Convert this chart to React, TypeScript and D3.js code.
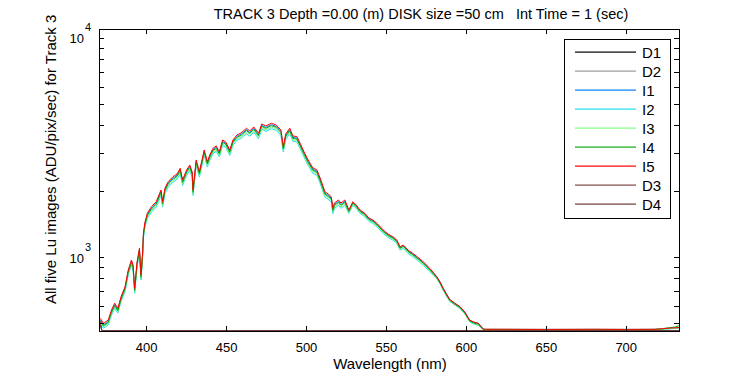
import React from 'react';
import { line, scaleLinear, scaleLog } from 'd3';

// wavelength grid (nm) for the five Lu images
const wavelengths = [
  371, 373, 376, 378, 380, 382, 384, 386.5, 388.5, 390.5, 391.5, 392.5, 394, 395.5, 396.5, 397.5, 398, 399,
  400.5, 403, 406, 409, 410, 411.5, 413.5, 416.5, 419, 421, 422.5, 425, 427, 428.5, 429, 431, 433, 436, 438,
  439.5, 441.5, 443.5, 445.5, 447.5, 449.5, 452, 454, 456.5, 459, 462.5, 464.5, 467, 470, 472, 474.5, 478, 481,
  484, 485.5, 487, 489.5, 491.5, 494, 496, 498.5, 501, 504, 506.5, 508.5, 511.5, 513.5, 515.5, 516.5, 517.5,
  520, 521.5, 524, 526.5, 529, 531, 533.5, 536.5, 539, 541.5, 544.5, 548, 551, 554, 556.5, 558.5, 560.5, 563.5,
  566.5, 569.5, 573, 577, 581.5, 583.5, 585.5, 587.5, 589.5, 592.5, 596, 599, 602, 604.5, 607.5, 609, 610.5,
  612, 620, 650, 680, 700, 718, 722, 725, 728, 731, 733,
];

const i1 = [
  521, 494, 512, 568, 611, 579, 654, 727, 866, 961, 912, 714, 942, 1087, 821, 1049, 1277, 1437,
  1575, 1682, 1773, 2005, 1773, 2048, 2188, 2306, 2372, 2519, 2227, 2474, 2607, 2422, 2005, 2748, 2430, 3052, 2700,
  2896, 3107, 3184, 2998, 3389, 3319, 3052, 3389, 3573, 3648, 3834, 3726, 3886, 3638, 4010, 3926, 4039, 3969,
  3766, 3160, 3610, 3834, 3535, 3510, 3274, 2988, 2748, 2527, 2474, 2274, 1969, 1923, 1869, 1655, 1749,
  1806, 1749, 1806, 1634, 1782, 1723, 1634, 1578, 1502, 1471, 1410, 1325, 1269, 1235, 1192, 1111, 1132, 1073,
  1037, 997, 949, 888, 819, 775, 726, 684, 646, 622, 598, 566, 520, 509, 502, 488, 473,
  471, 471, 471, 471, 471, 471, 473, 475, 477, 478, 480,
];

const i2 = [
  503, 477, 494, 548, 589, 559, 631, 701, 835, 927, 880, 689, 908, 1049, 792, 1012, 1231, 1386,
  1511, 1614, 1701, 1924, 1701, 1965, 2099, 2212, 2276, 2416, 2137, 2374, 2501, 2324, 1924, 2637, 2331, 2928, 2590,
  2778, 2981, 3054, 2877, 3252, 3185, 2928, 3252, 3428, 3500, 3678, 3575, 3728, 3490, 3847, 3767, 3875, 3807,
  3613, 3032, 3463, 3678, 3392, 3367, 3141, 2867, 2637, 2424, 2374, 2182, 1889, 1845, 1793, 1588, 1678,
  1732, 1678, 1732, 1592, 1737, 1679, 1592, 1538, 1464, 1434, 1374, 1291, 1237, 1203, 1162, 1083, 1103, 1046,
  1010, 972, 925, 866, 803, 760, 711, 669, 633, 610, 586, 555, 510, 499, 492, 480, 470,
  470, 470, 470, 470, 470, 470, 471, 472, 474, 475, 476,
];

const i3 = [
  510, 484, 502, 557, 598, 567, 641, 712, 848, 942, 894, 700, 923, 1065, 805, 1028, 1251, 1408,
  1535, 1640, 1728, 1955, 1728, 1996, 2132, 2247, 2312, 2455, 2171, 2412, 2541, 2361, 1955, 2678, 2368, 2974, 2631,
  2822, 3028, 3103, 2922, 3303, 3235, 2974, 3303, 3482, 3556, 3736, 3632, 3787, 3545, 3908, 3827, 3937, 3868,
  3670, 3080, 3518, 3736, 3445, 3420, 3191, 2913, 2678, 2462, 2412, 2217, 1919, 1874, 1821, 1613, 1705,
  1760, 1705, 1760, 1609, 1755, 1697, 1609, 1554, 1479, 1449, 1388, 1305, 1250, 1216, 1174, 1094, 1114, 1057,
  1021, 982, 935, 875, 807, 763, 714, 673, 636, 613, 589, 558, 512, 501, 494, 482, 471,
  471, 471, 470, 471, 470, 471, 472, 474, 476, 477, 479,
];

const i4 = [
  516, 489, 507, 563, 605, 573, 647, 720, 857, 952, 903, 707, 932, 1076, 813, 1038, 1264, 1423,
  1559, 1665, 1755, 1985, 1755, 2027, 2165, 2282, 2348, 2493, 2204, 2449, 2581, 2398, 1985, 2720, 2405, 3021, 2672,
  2867, 3075, 3151, 2968, 3355, 3286, 3021, 3355, 3536, 3611, 3795, 3688, 3846, 3601, 3969, 3886, 3998, 3928,
  3727, 3128, 3573, 3795, 3499, 3474, 3241, 2958, 2720, 2501, 2449, 2251, 1949, 1903, 1850, 1638, 1732,
  1787, 1732, 1787, 1625, 1773, 1714, 1625, 1570, 1494, 1464, 1403, 1318, 1263, 1228, 1186, 1105, 1126, 1068,
  1031, 992, 945, 884, 811, 767, 718, 676, 640, 616, 592, 560, 515, 504, 497, 484, 471,
  471, 471, 471, 471, 471, 471, 473, 478, 480, 484, 490,
];

const i5 = [
  529, 502, 520, 577, 620, 588, 664, 738, 879, 976, 926, 725, 956, 1104, 834, 1065, 1296, 1459,
  1599, 1708, 1800, 2036, 1800, 2079, 2221, 2341, 2408, 2557, 2261, 2512, 2647, 2459, 2036, 2790, 2467, 3098, 2741,
  2940, 3154, 3232, 3044, 3441, 3370, 3098, 3441, 3627, 3704, 3892, 3783, 3945, 3693, 4071, 3986, 4101, 4029,
  3823, 3208, 3665, 3892, 3589, 3563, 3324, 3034, 2790, 2565, 2512, 2309, 1999, 1952, 1897, 1680, 1776,
  1833, 1776, 1833, 1650, 1800, 1740, 1650, 1594, 1517, 1486, 1424, 1338, 1282, 1247, 1204, 1122, 1143, 1084,
  1047, 1007, 959, 897, 819, 775, 725, 683, 646, 622, 598, 566, 520, 509, 502, 488, 473,
  472, 472, 471, 472, 471, 472, 474, 476, 478, 479, 481,
];

// dark frames
const darkWavelengths = [370.5, 372, 450, 550, 650, 733];
const d1 = [515, 465, 465, 465, 465, 465];
const d2 = [516, 465, 465, 465, 465, 465];
const d3 = [520, 465, 465, 465, 465, 465];
const d4 = [518, 465, 465, 465, 465, 465];

const seriesNames = ['D1', 'D2', 'I1', 'I2', 'I3', 'I4', 'I5', 'D3', 'D4'];
const seriesColors = ['#000000', '#999999', '#0080ff', '#1fdfef', '#80ff80', '#10a810', '#ff0000', '#804848', '#703838'];
const seriesValues = [d1, d2, i1, i2, i3, i4, i5, d3, d4];

const xTicks = [400, 450, 500, 550, 600, 650, 700];
const yMajor = [1000, 10000];
const yMinor = [500, 600, 700, 800, 900, 2000, 3000, 4000, 5000, 6000, 7000, 8000, 9000];

const title = 'TRACK 3 Depth =0.00 (m) DISK size =50 cm   Int Time = 1 (sec)';

const W = 750;
const H = 375;
const left = 99, right = 679, top = 29, bottom = 331;
const font = 'Arial, "Liberation Sans", Helvetica, sans-serif';

const App = () => {
  const x = scaleLinear().domain([370.2, 733]).range([left, right]);
  const y = scaleLog().domain([463.3, 11030]).range([bottom, top]);
  const tl = 5;

  const lineGen = line<[number, number]>()
    .x((d) => x(d[0]))
    .y((d) => y(d[1]));

  const paths = seriesNames.map((name, i) => {
    const wl = name.startsWith('D') ? darkWavelengths : wavelengths;
    const pts = wl.map((w, j) => [w, seriesValues[i][j]] as [number, number]);
    return { name, color: seriesColors[i], d: lineGen(pts) || '' };
  });

  return (
    <svg width={W} height={H} style={{ position: 'absolute', left: 0, top: 0, background: '#fff' }} fontFamily={font}>
      <defs>
        <clipPath id="plotClip">
          <rect x={left} y={top} width={right - left} height={bottom - top} />
        </clipPath>
      </defs>

      <text x={421} y={19} fontSize={14.5} textAnchor="middle" style={{ whiteSpace: 'pre' }}>
        {title}
      </text>

      <g clipPath="url(#plotClip)">
        {paths.map((p) => (
          <path key={p.name} d={p.d} fill="none" stroke={p.color} strokeWidth={1} />
        ))}
      </g>

      {/* axes box */}
      <rect x={left} y={top} width={right - left} height={bottom - top} fill="none" stroke="#000" strokeWidth={1} shapeRendering="crispEdges" />

      {xTicks.map((t) => (
        <g key={t} shapeRendering="crispEdges">
          <line x1={x(t)} x2={x(t)} y1={bottom} y2={bottom - tl} stroke="#000" />
          <line x1={x(t)} x2={x(t)} y1={top} y2={top + tl} stroke="#000" />
          <text x={x(t)} y={352} fontSize={13} textAnchor="middle">
            {t}
          </text>
        </g>
      ))}

      {[...yMajor, ...yMinor].map((t) => (
        <g key={t} shapeRendering="crispEdges">
          <line x1={left} x2={left + tl} y1={y(t)} y2={y(t)} stroke="#000" />
          <line x1={right} x2={right - tl} y1={y(t)} y2={y(t)} stroke="#000" />
        </g>
      ))}
      {yMajor.map((t) => (
        <g key={'l' + t}>
          <text x={84} y={y(t) + 5} fontSize={13} textAnchor="end">
            10
          </text>
          <text x={85} y={y(t) - 7} fontSize={11}>
            {Math.round(Math.log10(t))}
          </text>
        </g>
      ))}

      <text x={390} y={369} fontSize={15} textAnchor="middle">
        Wavelength (nm)
      </text>
      <text transform="translate(56,304) rotate(-90)" fontSize={15} textAnchor="start">
        All five Lu images (ADU/pix/sec) for Track 3
      </text>

      {/* legend */}
      <rect x={564.5} y={39.5} width={106} height={178.5} fill="#fff" stroke="#000" strokeWidth={1} shapeRendering="crispEdges" />
      {seriesNames.map((name, i) => {
        const ly = 52 + i * 19;
        return (
          <g key={'lg' + name}>
            <rect x={575} y={ly - 0.5} width={61} height={1.2} fill={seriesColors[i]} />
            <text x={642} y={ly + 5.5} fontSize={15}>
              {name}
            </text>
          </g>
        );
      })}
    </svg>
  );
};

export default App;
